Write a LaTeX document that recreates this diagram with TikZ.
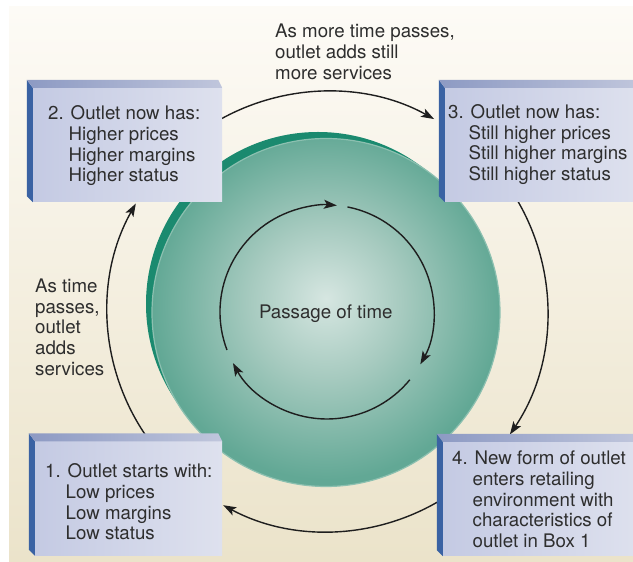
\documentclass[tikz,border=0pt]{standalone}
\usepackage{fontspec}
\setmainfont{TeX Gyre Heros}
\usetikzlibrary{arrows.meta,calc}

\definecolor{bgtop}{HTML}{FDFBF6}
\definecolor{bgbot}{HTML}{EBE3CA}
\definecolor{tealA}{HTML}{D6E6E1}
\definecolor{tealB}{HTML}{A6CABF}
\definecolor{tealC}{HTML}{62A895}
\definecolor{tealdark}{HTML}{1B8A6F}
\definecolor{tealrim}{HTML}{8CC0B0}
\definecolor{faceL}{HTML}{C4CAE3}
\definecolor{faceR}{HTML}{DEE1EE}
\definecolor{topL}{HTML}{8D9AC3}
\definecolor{topR}{HTML}{C0C6DC}
\definecolor{sideC}{HTML}{3A62A3}
\definecolor{ink}{HTML}{2E2E2E}
\definecolor{arrowink}{HTML}{1E1E1E}

% soft radial fill for the large disc; rim of the disc sits at 25bp
\pgfdeclareradialshading{tealball}{\pgfpoint{0bp}{2bp}}{%
  color(0bp)=(tealA); color(11bp)=(tealB); color(25bp)=(tealC); color(50bp)=(tealC)}

\tikzset{
  txt/.style={font=\fontsize{18.7}{20.6}\selectfont, text=ink, inner sep=0pt},
  boxface/.style={draw=none, left color=faceL, right color=faceR,
                  minimum height=114, inner sep=0pt},
  conn/.style={draw=arrowink, line width=1.4pt,
               -{Stealth[length=13pt,width=9pt,inset=3pt]}},
}

\newcommand{\hang}{\hspace*{20.5pt}}

\begin{document}
\begin{tikzpicture}[x=1pt,y=1pt]
  \useasboundingbox (0,0) rectangle (633,562);
  \fill[white] (0,0) rectangle (633,562);
  \shade[top color=bgtop, bottom color=bgbot] (9,0) rectangle (633,555);

  % disc with its dark offset shadow
  \fill[tealdark] (318,258) circle (172);
  \shade[shading=tealball, draw=tealrim, line width=1.2pt] (326,249.5) circle (174);

  % outer cycle of connectors
  \coordinate (O) at (327.5,250.5);
  \coordinate (a1) at ($(O)+(215:220)$);
  \coordinate (a2) at ($(O)+(120:220)$);
  \coordinate (a3) at ($(O)+(31:220)$);
  \coordinate (a4) at ($(O)+(-58:220)$);
  \draw[conn] (a1) arc[start angle=215, end angle=150.6, radius=220];
  \draw[conn] (a2) arc[start angle=120, end angle=61, radius=220];
  \draw[conn] (a3) arc[start angle=31, end angle=-34, radius=220];
  \draw[conn] (a4) arc[start angle=-58, end angle=-118.3, radius=220];

  % inner cycle
  \coordinate (I) at (327,250);
  \coordinate (i1) at ($(I)+(79:107)$);
  \coordinate (i2) at ($(I)+(-39.3:107)$);
  \coordinate (i3) at ($(I)+(200.8:107)$);
  \draw[conn] (i1) arc[start angle=79, end angle=-29.3, radius=107];
  \draw[conn] (i2) arc[start angle=-39.3, end angle=-151.5, radius=107];
  \draw[conn] (i3) arc[start angle=200.8, end angle=84.7, radius=107];

  % boxes: front faces
  \node[boxface, minimum width=189] (b2) at (127.5,417) {};
  \node[boxface, minimum width=195] (b3) at (542.5,417) {};
  \node[boxface, minimum width=187] (b1) at (128.5,63.5) {};
  \node[boxface, minimum width=197] (b4) at (541.5,63) {};

  % boxes: bevelled top and dark left side
  \foreach \b in {b1,b2,b3,b4}{
    \fill[sideC] (\b.south west) -- (\b.north west) -- ++(-6,8)
                 -- ($(\b.south west)+(-6,6)$) -- cycle;
    \shade[left color=topL, right color=topR] (\b.north west) -- ++(-6,8)
                 -- ($(\b.north east)+(-4,8)$) -- (\b.north east) -- cycle;
  }

  % box texts
  \node[txt, anchor=base west] (t2) at (48,442) {\begin{tabular}[t]{@{}l@{}}
    2. Outlet now has:\\ \hang Higher prices\\ \hang Higher margins\\ \hang Higher status
  \end{tabular}};
  \node[txt, anchor=base west] (t3) at (448,443.5) {\begin{tabular}[t]{@{}l@{}}
    3. Outlet now has:\\ \hang Still higher prices\\ \hang Still higher margins\\ \hang Still higher status
  \end{tabular}};
  \node[txt, anchor=base west] (t1) at (45,84) {\begin{tabular}[t]{@{}l@{}}
    1. Outlet starts with:\\ \hang Low prices\\ \hang Low margins\\ \hang Low status
  \end{tabular}};
  \node[txt, anchor=base west] (t4) at (452,97) {\begin{tabular}[t]{@{}l@{}}
    4. New form of outlet\\ \hang enters retailing\\ \hang environment with\\
    \hang characteristics of\\ \hang outlet in Box 1
  \end{tabular}};

  % captions
  \node[txt, anchor=base west] (cap1) at (275,524) {\begin{tabular}[t]{@{}l@{}}
    As more time passes,\\ outlet adds still\\ more services
  \end{tabular}};
  \node[txt, anchor=base west] (cap2) at (35,269.3) {\begin{tabular}[t]{@{}l@{}}
    As time\\ passes,\\ outlet\\ adds\\ services
  \end{tabular}};
  \node[txt, anchor=base] (pt) at (325.8,243.7) {Passage of time};
\end{tikzpicture}
\end{document}
